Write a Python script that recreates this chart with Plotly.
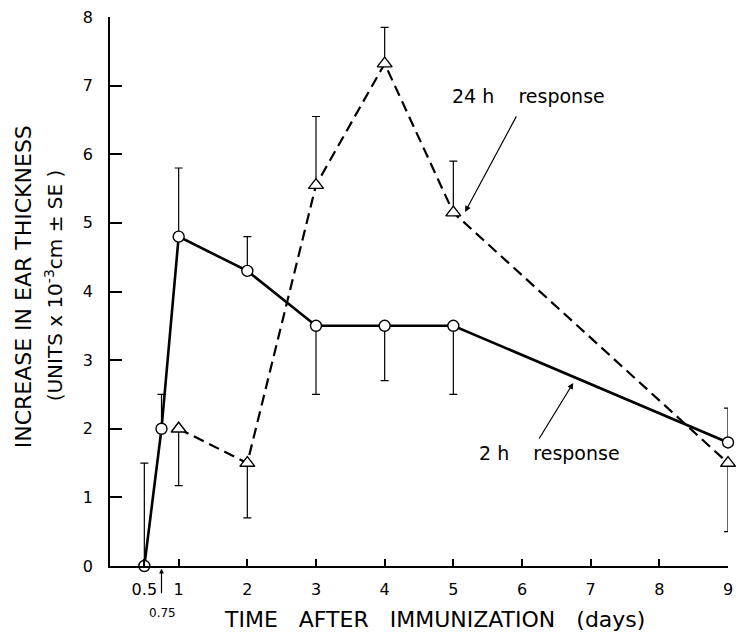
import plotly.graph_objects as go

# ---- data ----
days_2h = [0.5, 0.75, 1, 2, 3, 4, 5, 9]
resp_2h = [0.0, 2.0, 4.8, 4.3, 3.5, 3.5, 3.5, 1.8]
err_2h_plus = [1.5, 0.5, 1.0, 0.5, 0.0, 0.0, 0.0, 0.5]
err_2h_minus = [0.0, 0.0, 0.0, 0.0, 1.0, 0.8, 1.0, 0.0]

days_24h = [1, 2, 3, 4, 5, 9]
resp_24h = [2.0, 1.5, 5.55, 7.32, 5.15, 1.5]
err_24h_plus = [0.0, 0.0, 1.0, 0.53, 0.75, 0.0]
err_24h_minus = [0.83, 0.8, 0.0, 0.0, 0.0, 1.0]

x_tickvals = [0.5, 1, 2, 3, 4, 5, 6, 7, 8, 9]
x_ticktext = ["0.5", "1", "2", "3", "4", "5", "6", "7", "8", "9"]
y_tickvals = [0, 1, 2, 3, 4, 5, 6, 7, 8]

FONT = "DejaVu Sans"

fig = go.Figure()

fig.add_trace(go.Scatter(
    x=days_24h, y=resp_24h, mode="lines+markers",
    line=dict(color="black", width=2.2, dash="11px,6px"),
    marker=dict(symbol="triangle-up", size=13, color="white",
                line=dict(color="black", width=1.4)),
    error_y=dict(type="data", symmetric=False, array=err_24h_plus,
                 arrayminus=err_24h_minus, color="black", thickness=1.2, width=4),
    cliponaxis=False, showlegend=False,
))

fig.add_trace(go.Scatter(
    x=days_2h, y=resp_2h, mode="lines+markers",
    line=dict(color="black", width=2.6),
    marker=dict(symbol="circle", size=11, color="white",
                line=dict(color="black", width=1.4)),
    error_y=dict(type="data", symmetric=False, array=err_2h_plus,
                 arrayminus=err_2h_minus, color="black", thickness=1.2, width=4),
    cliponaxis=False, showlegend=False,
))

NB = "\u00a0"
C = dict(xanchor="center", yanchor="middle")
annotations = [
    # arrows
    dict(x=5.172, y=5.16, xref="x", yref="y", ax=52, ay=-97, text="",
         showarrow=True, arrowhead=2, arrowsize=1, arrowwidth=1.2, arrowcolor="black"),
    dict(x=6.747, y=2.667, xref="x", yref="y", ax=-35, ay=57, text="",
         showarrow=True, arrowhead=2, arrowsize=1, arrowwidth=1.2, arrowcolor="black"),
    dict(x=0.75, y=-0.005, xref="x", yref="paper", ax=0, ay=26, text="",
         showarrow=True, arrowhead=2, arrowsize=0.8, arrowwidth=1.2, arrowcolor="black"),
    # texts
    dict(x=0.677, y=0.856, xref="paper", yref="paper", showarrow=False,
         text="24" + NB + "h" + NB * 4 + "response",
         font=dict(family=FONT, size=19, color="black"), **C),
    dict(x=0.711, y=0.206, xref="paper", yref="paper", showarrow=False,
         text="2" + NB + "h" + NB * 4 + "response",
         font=dict(family=FONT, size=19, color="black"), **C),
    dict(x=0.766, y=-0.0856, xref="x", yref="paper", showarrow=False,
         text="0.75", font=dict(family=FONT, size=12, color="black"), **C),
    dict(x=0.525, y=-0.098, xref="paper", yref="paper", showarrow=False,
         text="TIME" + NB * 3 + "AFTER" + NB * 3 + "IMMUNIZATION" + NB * 3 + "(days)",
         font=dict(family=FONT, size=22, color="black"), **C),
    dict(x=-0.1396, y=0.509, xref="paper", yref="paper", showarrow=False,
         textangle=-90, text="INCREASE IN EAR THICKNESS",
         font=dict(family=FONT, size=22, color="black"), **C),
    dict(x=-0.0915, y=0.512, xref="paper", yref="paper", showarrow=False,
         textangle=-90, text="(UNITS x 10<sup>-3</sup>cm ± SE )",
         font=dict(family=FONT, size=20, color="black"), **C),
]

fig.update_layout(
    width=739, height=633,
    margin=dict(l=110, r=6, t=17, b=67),
    paper_bgcolor="white", plot_bgcolor="white",
    annotations=annotations,
    xaxis=dict(range=[0, 9], tickvals=x_tickvals, ticktext=x_ticktext,
               showgrid=False, zeroline=False, showline=True, linecolor="black",
               linewidth=1.5, ticks="inside", ticklen=7, tickwidth=1.5,
               tickcolor="black", ticklabelstandoff=8,
               tickfont=dict(family=FONT, size=16, color="black")),
    yaxis=dict(range=[0, 8], tickvals=y_tickvals,
               showgrid=False, zeroline=False, showline=True, linecolor="black",
               linewidth=1.5, ticks="inside", ticklen=12, tickwidth=1.5,
               tickcolor="black", ticklabelstandoff=12,
               tickfont=dict(family=FONT, size=16, color="black")),
)

fig.write_html(
    "out.html",
    config={"displayModeBar": False},
    post_script="document.body.style.margin='0';document.body.style.overflow='hidden';",
)
